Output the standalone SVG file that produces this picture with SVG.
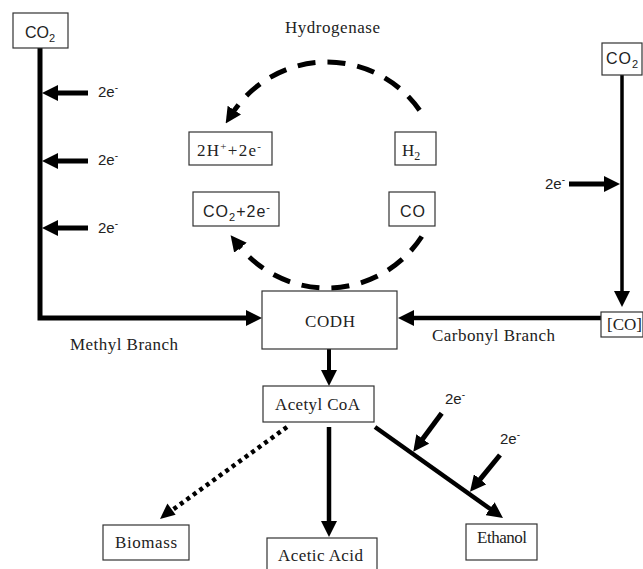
<svg xmlns="http://www.w3.org/2000/svg" width="643" height="569" viewBox="0 0 643 569">
<style>
.box{fill:#fff;stroke:#333;stroke-width:1.2}
.serif{font-family:"Liberation Serif","Times New Roman",serif;font-size:17px;fill:#222}
.sans{font-family:"Liberation Sans",Arial,sans-serif;font-size:16px;fill:#222}
.el{font-family:"Liberation Sans",Arial,sans-serif;font-size:15px;fill:#222}
.ln{fill:none;stroke:#000;stroke-linecap:butt}
</style>
<defs>
<marker id="ah" markerUnits="userSpaceOnUse" markerWidth="16" markerHeight="16" viewBox="0 0 16 16" refX="4" refY="8" orient="auto">
<path d="M0,0 L16,8 L0,16 z" fill="#000"/>
</marker>
</defs>
<g id="connectors">
<polyline class="ln" points="40,48 40,318 250,318" stroke-width="5" marker-end="url(#ah)"/>
<line class="ln" x1="88" y1="93" x2="54" y2="93" stroke-width="5" marker-end="url(#ah)"/>
<line class="ln" x1="88" y1="161" x2="54" y2="161" stroke-width="5" marker-end="url(#ah)"/>
<line class="ln" x1="88" y1="228" x2="54" y2="228" stroke-width="5" marker-end="url(#ah)"/>
<line class="ln" x1="622" y1="75" x2="622" y2="295" stroke-width="3.5" marker-end="url(#ah)"/>
<line class="ln" x1="569" y1="184" x2="608" y2="184" stroke-width="5" marker-end="url(#ah)"/>
<line class="ln" x1="601" y1="318" x2="410" y2="318" stroke-width="4.5" marker-end="url(#ah)"/>
<line class="ln" x1="329" y1="349" x2="329" y2="374" stroke-width="4" marker-end="url(#ah)"/>
<line class="ln" x1="329" y1="427" x2="329" y2="525" stroke-width="4.5" marker-end="url(#ah)"/>
<line class="ln" x1="375" y1="427" x2="493.2" y2="511" stroke-width="4.5" marker-end="url(#ah)"/>
<line class="ln" x1="441.7" y1="413.3" x2="420.4" y2="442.1" stroke-width="5" marker-end="url(#ah)"/>
<line class="ln" x1="500" y1="455" x2="477.6" y2="482.4" stroke-width="5" marker-end="url(#ah)"/>
<line class="ln" x1="287" y1="427" x2="171" y2="511" stroke-width="4.5" stroke-dasharray="4 4"/>
<polygon points="160,519 167.4,503.4 175.6,514.8" fill="#000"/>
<path class="ln" d="M419.6,110.2 A113,113 0 0 0 232.2,113.5" stroke-width="5" stroke-dasharray="18 12" marker-end="url(#ah)"/>
<path class="ln" d="M421.8,236.5 A113,113 0 0 1 238,244.6" stroke-width="5" stroke-dasharray="18 12" marker-end="url(#ah)"/>
</g>
<g id="node-co2-left"><rect class="box" x="13" y="13" width="55" height="35"/><text class="sans" x="25" y="38" textLength="30" lengthAdjust="spacing">CO<tspan dy="4" font-size="11">2</tspan></text></g>
<g id="node-co2-right"><rect class="box" x="602" y="43" width="40" height="32"/><text class="sans" x="606" y="64" textLength="32" lengthAdjust="spacing">CO<tspan dy="4" font-size="11">2</tspan></text></g>
<g id="label-hydrogenase"><text class="serif" x="285" y="33" textLength="95" lengthAdjust="spacing">Hydrogenase</text></g>
<g id="node-2h"><rect class="box" x="189" y="132" width="83" height="33"/><text class="serif" x="197" y="156" textLength="64" lengthAdjust="spacing">2H<tspan dy="-6" font-size="11">+</tspan><tspan dy="6">+2e</tspan><tspan dy="-6" font-size="11">-</tspan></text></g>
<g id="node-h2"><rect class="box" x="395" y="132" width="41" height="33"/><text class="serif" x="402" y="156">H<tspan dy="4" font-size="12">2</tspan></text></g>
<g id="node-co2-2e"><rect class="box" x="193" y="192" width="86" height="34"/><text class="sans" x="203" y="217" textLength="67" lengthAdjust="spacing">CO<tspan dy="4" font-size="11">2</tspan><tspan dy="-4">+2e</tspan><tspan dy="-6" font-size="11">-</tspan></text></g>
<g id="node-co"><rect class="box" x="389" y="192" width="46" height="34"/><text class="sans" x="400" y="217" textLength="25" lengthAdjust="spacing">CO</text></g>
<g id="node-codh"><rect class="box" x="262" y="291" width="135" height="58"/><text class="serif" x="305" y="327" textLength="50" lengthAdjust="spacing">CODH</text></g>
<g id="node-co-bracket"><rect class="box" x="601" y="312" width="42" height="25"/><text class="serif" x="607" y="330" textLength="35" lengthAdjust="spacing">[CO]</text></g>
<g id="node-acetylcoa"><rect class="box" x="263" y="386" width="111" height="36"/><text class="serif" x="275" y="410" textLength="85" lengthAdjust="spacing">Acetyl CoA</text></g>
<g id="node-biomass"><rect class="box" x="103" y="525" width="86" height="35"/><text class="serif" x="115" y="548" textLength="62" lengthAdjust="spacing">Biomass</text></g>
<g id="node-acetic"><rect class="box" x="267" y="538" width="110" height="40"/><text class="serif" x="278" y="561" textLength="85" lengthAdjust="spacing">Acetic Acid</text></g>
<g id="node-ethanol"><rect class="box" x="466" y="524" width="71" height="36"/><text class="serif" x="477" y="543" textLength="50" lengthAdjust="spacing">Ethanol</text></g>
<g id="labels">
<text class="serif" x="70" y="350" textLength="108" lengthAdjust="spacing">Methyl Branch</text>
<text class="serif" x="432" y="341" textLength="123" lengthAdjust="spacing">Carbonyl Branch</text>
<text class="el" x="98" y="97">2e<tspan dy="-6" font-size="10">-</tspan></text>
<text class="el" x="98" y="165">2e<tspan dy="-6" font-size="10">-</tspan></text>
<text class="el" x="98" y="233">2e<tspan dy="-6" font-size="10">-</tspan></text>
<text class="el" x="545" y="189">2e<tspan dy="-6" font-size="10">-</tspan></text>
<text class="el" x="445" y="404">2e<tspan dy="-6" font-size="10">-</tspan></text>
<text class="el" x="500" y="444">2e<tspan dy="-6" font-size="10">-</tspan></text>
</g>
</svg>
